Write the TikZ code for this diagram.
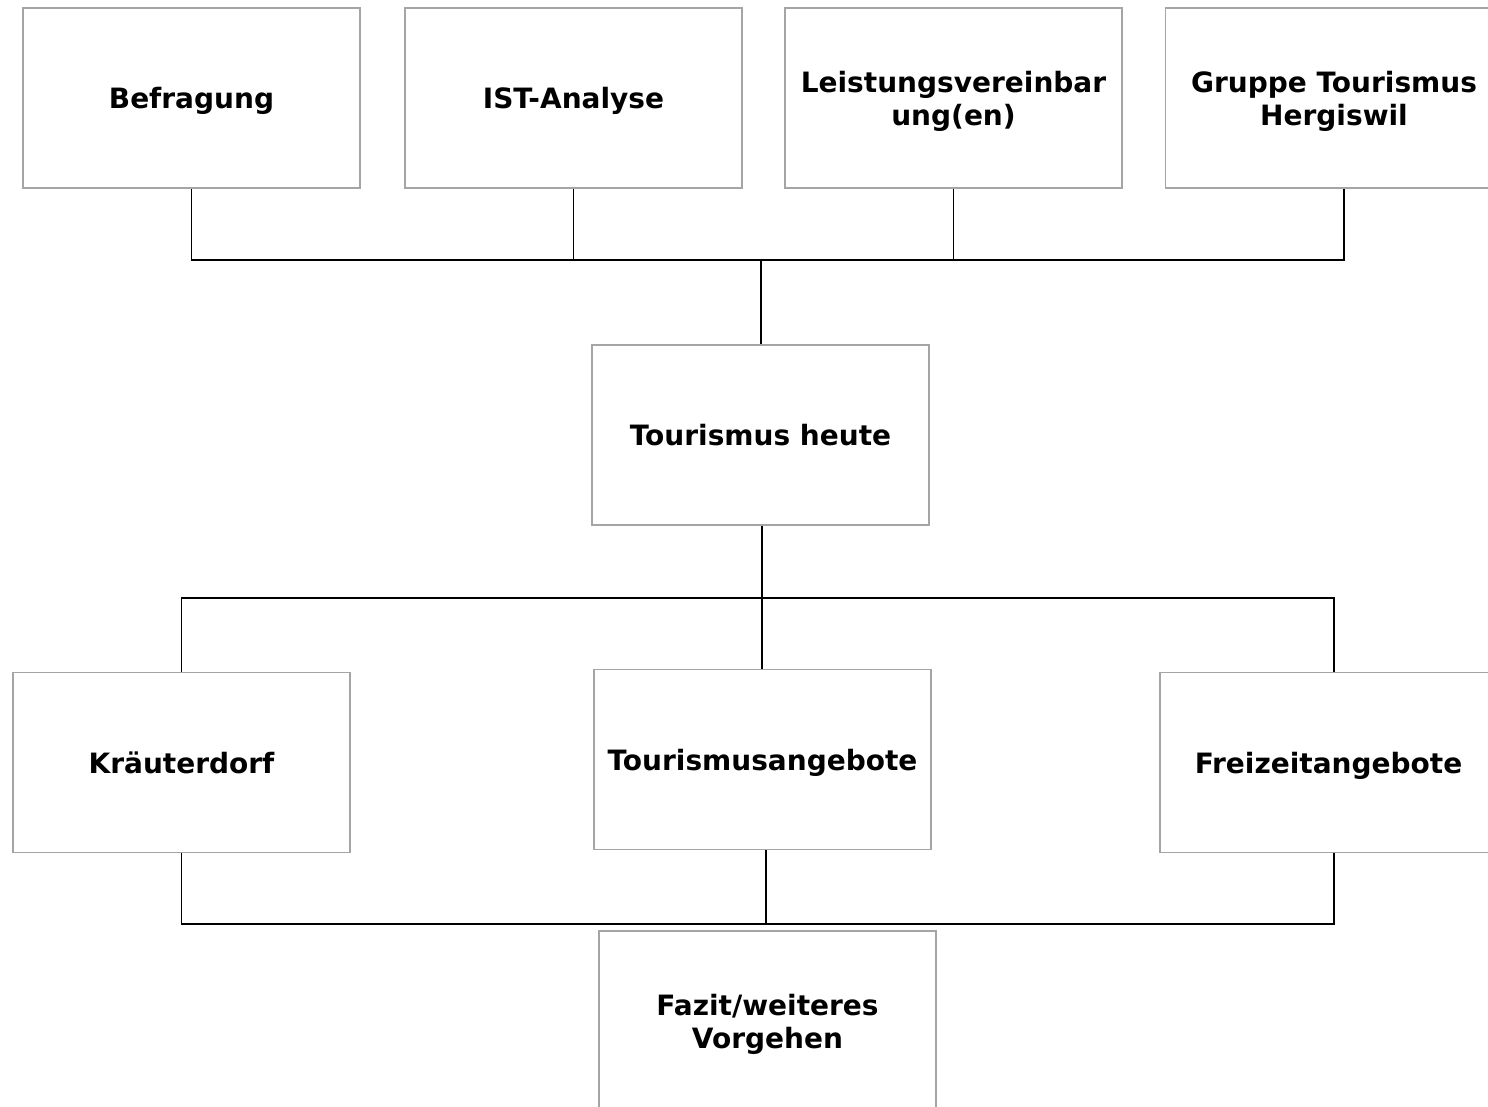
\documentclass[tikz,border=0pt]{standalone}
\usepackage{fontspec}
\setmainfont{DejaVu Sans}
\usepackage{tikz}
\usetikzlibrary{positioning,calc}
\definecolor{boxgray}{RGB}{165,165,165}
\tikzset{%
  topic box/.style={%
    draw=boxgray,
    line width=0.9pt,
    rectangle,
    minimum width=168.5pt,
    minimum height=90pt,
    inner sep=0pt,
    text depth=0pt,
    align=center,
    font=\fontsize{14}{16.5}\selectfont\bfseries
  }
}
\tikzset{%
  tree line/.style={%
    line width=0.6pt,
    color=black
  }
}

\begin{document}
\begin{tikzpicture}[x=0.5pt,y=-0.5pt]
  \useasboundingbox (0,0) rectangle (1488,1107);
  \clip (0,0) rectangle (1488,1107);
  \node [topic box] (bef) at (191.5, 98) {Befragung};
  \node [topic box] (ist) at (573.5, 98) {IST-Analyse};
  \node [topic box] (leist) at (953.5, 98) {Leistungsvereinbar\\ung(en)};
  \node [topic box] (grp) at (1334, 98) {Gruppe Tourismus\\Hergiswil};
  \node [topic box] (heute) at (760.5, 435) {Tourismus heute};
  \node [topic box] (kraut) at (181.5, 762.5) {Kräuterdorf};
  \node [topic box] (ang) at (762.5, 759.5) {Tourismusangebote};
  \node [topic box] (frei) at (1328.5, 762.5) {Freizeitangebote};
  \node [topic box] (fazit) at (767.5, 1021) {Fazit/weiteres\\Vorgehen};
  \coordinate (bus1) at (761, 260);
  \coordinate (bus2) at (762, 598);
  \coordinate (bus3) at (766, 924);
  \draw [tree line] (bef.south) |- (bus1);
  \draw [tree line] (ist.south) -- (ist.south |- bus1);
  \draw [tree line] (leist.south) -- (leist.south |- bus1);
  \draw [tree line] ([xshift=5pt]grp.south) |- (bus1);
  \draw [tree line] (bus1) -- (heute.north -| bus1);
  \draw [tree line] (heute.south -| bus2) -- (bus2);
  \draw [tree line] (kraut.north) |- (bus2);
  \draw [tree line] (ang.north -| bus2) -- (bus2);
  \draw [tree line] ([xshift=2.75pt]frei.north) |- (bus2);
  \draw [tree line] (kraut.south) |- (bus3);
  \draw [tree line] (ang.south -| bus3) -- (bus3);
  \draw [tree line] ([xshift=2.75pt]frei.south) |- (bus3);
\end{tikzpicture}
\end{document}
